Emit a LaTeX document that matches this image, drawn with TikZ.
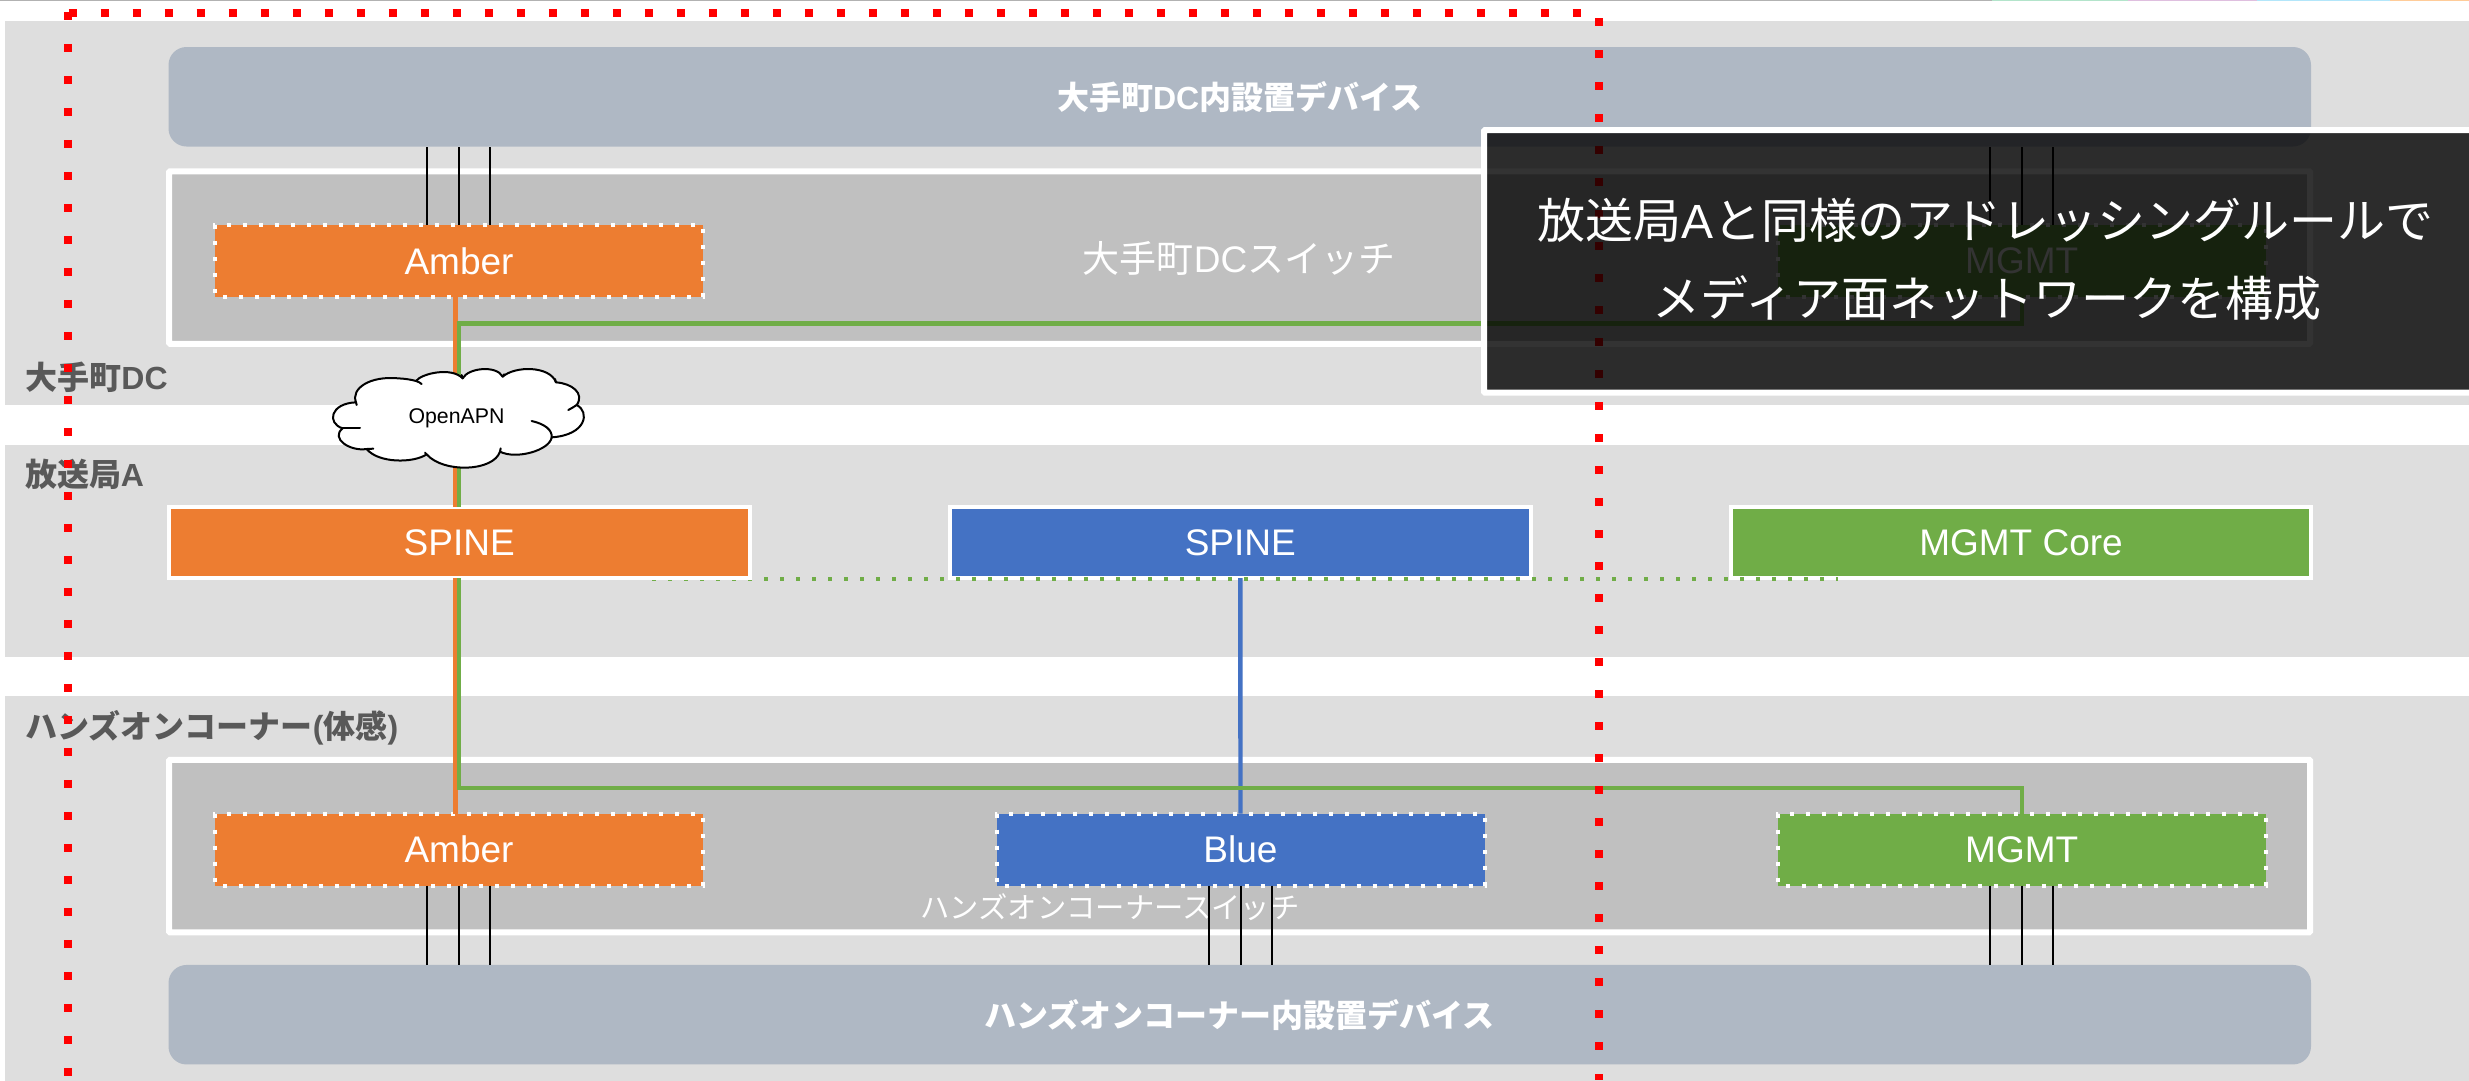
\documentclass[tikz,border=0pt]{standalone}
\usepackage{fontspec}
\setmainfont{Liberation Sans}
\newfontfamily\cjk{Noto Sans CJK JP}
\definecolor{bandgray}{HTML}{DEDEDE}
\definecolor{devgray}{HTML}{AFB8C4}
\definecolor{swgray}{HTML}{C0C0C0}
\definecolor{oorange}{HTML}{ED7D31}
\definecolor{oblue}{HTML}{4472C4}
\definecolor{ogreen}{HTML}{70AD47}
\definecolor{labgray}{HTML}{595959}
\tikzset{
  box/.style={inner sep=0pt,outer sep=0pt,anchor=center},
  band/.style={box,fill=bandgray,minimum width=2464pt},
  device/.style={box,fill=devgray,rounded corners=18pt,minimum width=2142.5pt,minimum height=99.5pt,text=white,font=\fontsize{32pt}{38pt}\selectfont\bfseries},
  switchbox/.style={box,fill=swgray,draw=white,line width=6pt,rounded corners=1pt,minimum width=2141pt,minimum height=172.5pt},
  vlan/.style={box,draw=white,line width=4pt,dash pattern=on 4pt off 12pt,dash phase=8pt,minimum width=488pt,minimum height=72pt,text=white,font=\fontsize{37pt}{44pt}\selectfont},
  spine/.style={box,draw=white,line width=4pt,minimum width=580.5pt,minimum height=71pt,text=white,font=\fontsize{37pt}{44pt}\selectfont},
  sectionlabel/.style={inner sep=0pt,outer sep=0pt,anchor=west,text=labgray,font=\fontsize{32pt}{38pt}\selectfont\bfseries},
  swlabel/.style={inner sep=0pt,outer sep=0pt,text=white},
  wire/.style={black,line width=2pt},
  olink/.style={oorange,line width=4.4pt},
  glink/.style={ogreen,line width=4.4pt},
  blink/.style={oblue,line width=4.4pt},
  reddots/.style={red,line width=8pt,dash pattern=on 8pt off 24pt},
  greendots/.style={ogreen,line width=4pt,dash pattern=on 4pt off 12pt},
  calltext/.style={inner sep=0pt,outer sep=0pt,text=white,font=\fontsize{48pt}{56pt}\selectfont},
}
\begin{document}
\begin{tikzpicture}[x=1pt,y=-1pt]
\useasboundingbox (0,0) rectangle (2469,1080);
\fill[white] (0,0) rectangle (2469,1080);
% top screen edge
\fill[black!30] (0,0) rectangle (1992,1.3);
\fill[cyan!30!green!30] (1992,0) rectangle (2128,1.3);
\fill[violet!25] (2128,0) rectangle (2257,1.3);
\fill[cyan!30] (2257,0) rectangle (2390,1.3);
\fill[orange!40] (2390,0) rectangle (2469,1.3);
% bands
\node[band,minimum height=384pt] (bandDC) at (1237,213) {};
\node[band,minimum height=212pt] (bandA) at (1237,551) {};
\node[band,minimum height=385pt] (bandH) at (1237,888) {};
% switches
\node[switchbox] (swD) at (1239.5,257.5) {};
\node[switchbox] (swH) at (1239.5,846) {};
\node[swlabel,font=\fontsize{37pt}{44pt}\selectfont] (swDlab) at (1239,258) {{\cjk 大手町}DC{\cjk スイッチ}};
\node[swlabel,font=\fontsize{29.3pt}{34pt}\selectfont\cjk] (swHlab) at (1110,907) {ハンズオンコーナースイッチ};
% devices
\node[device] (devT) at (1239.75,96.75) {{\cjk 大手町}DC{\cjk 内設置デバイス}};
\node[device] (devB) at (1239.75,1014.7) {\cjk ハンズオンコーナー内設置デバイス};
% VLAN boxes
\node[vlan,fill=oorange] (amberD) at (459,261) {Amber};
\node[vlan,fill=ogreen] (mgmtD) at (2021.7,261) {MGMT};
\node[vlan,fill=oorange] (amberH) at (459,849.7) {Amber};
\node[vlan,fill=oblue] (blueH) at (1240.5,849.7) {Blue};
\node[vlan,fill=ogreen] (mgmtH) at (2021.7,849.7) {MGMT};
% spines
\node[spine,fill=oblue] (spineB) at (1240.3,542.5) {SPINE};
\node[spine,fill=ogreen] (spineG) at (2021,542.5) {MGMT Core};
\coordinate (dotL) at (652,579);
\coordinate (dotR) at (1837.5,579);
\draw[greendots] (dotL) -- (dotR);
\node[spine,fill=oorange] (spineO) at (459.25,542.5) {SPINE};
% black wires
\foreach \dx in {-32,0,31}{
  \draw[wire] ([xshift=\dx pt]amberD.north) -- ([xshift=\dx pt]amberD.north |- devT.south);
  \draw[wire] ([xshift=\dx pt]mgmtD.north) -- ([xshift=\dx pt]mgmtD.north |- devT.south);
  \draw[wire] ([xshift=\dx pt]amberH.south) -- ([xshift=\dx pt]amberH.south |- devB.north);
  \draw[wire] ([xshift=\dx pt]blueH.south) -- ([xshift=\dx pt]blueH.south |- devB.north);
  \draw[wire] ([xshift=\dx pt]mgmtH.south) -- ([xshift=\dx pt]mgmtH.south |- devB.north);
}
% links
\draw[olink] ([xshift=-3.6pt]amberD.south) -- ([xshift=-3.6pt]amberD.south |- spineO.north);
\draw[olink] ([xshift=-3.6pt]spineO.south) -- ([xshift=-3.6pt]spineO.south |- amberH.north);
\draw[blink] (spineB.south) -- (blueH.north);
\coordinate (gDtop) at (spineO.north |- 0,323.4);
\coordinate (gHbot) at (spineO.south |- 0,788);
\draw[glink] (mgmtD.south) |- (gDtop) -- (spineO.north);
\draw[glink] (mgmtH.north) |- (gHbot) -- (spineO.south);
% cloud
\begin{scope}[shift={(320,355)},x=.33333pt,y=-.33333pt,line width=2pt,line cap=round,line join=round]
\filldraw[fill=white,draw=black]
  (108,142) .. controls (92,100) and (150,62) .. (235,70)
  .. controls (255,71) and (275,74) .. (288,78)
  .. controls (305,55) and (395,35) .. (428,70)
  .. controls (445,38) and (530,30) .. (548,65)
  .. controls (585,32) and (690,32) .. (708,82)
  .. controls (755,85) and (795,115) .. (770,150)
  .. controls (810,170) and (800,240) .. (695,247)
  .. controls (690,285) and (590,315) .. (540,290)
  .. controls (520,350) and (370,355) .. (320,298)
  .. controls (280,325) and (175,325) .. (140,282)
  .. controls (90,290) and (30,250) .. (68,220)
  .. controls (20,205) and (30,145) .. (108,142) -- cycle;
\draw (288,78) .. controls (295,80) and (300,83) .. (305,87);
\draw (428,70) -- (425,60);
\draw (548,65) -- (552,58);
\draw (708,82) -- (705,72);
\draw (770,150) .. controls (762,155) and (755,160) .. (745,165);
\draw (695,247) .. controls (697,225) and (675,207) .. (635,198);
\draw (540,290) -- (542,280);
\draw (320,298) -- (315,293);
\draw (140,282) -- (160,281);
\draw (68,220) .. controls (85,220) and (100,220) .. (120,220);
\draw (108,142) -- (110,150);
\end{scope}
\node[inner sep=0pt,outer sep=0pt,font=\fontsize{21.3pt}{25pt}\selectfont] (cloudlab) at (456.5,418) {OpenAPN};
% section labels
\node[sectionlabel] (labDC) at (25.5,377) {{\cjk 大手町}DC};
\node[sectionlabel] (labA) at (25,474.5) {{\cjk 放送局}A};
\node[sectionlabel] (labH) at (25.5,728) {{\cjk ハンズオンコーナー}({\cjk 体感})};
% red dotted frame
\coordinate (rA) at (68.4,11.8);
\coordinate (rB) at (68.4,1080);
\coordinate (rC) at (68.5,12.6);
\coordinate (rD) at (1582,12.6);
\coordinate (rE) at (1599,18);
\coordinate (rF) at (1599,1080);
\draw[reddots] (rA) -- (rB);
\draw[reddots] (rC) -- (rD);
\draw[reddots] (rE) -- (rF);
% callout
\node[box,fill=black,fill opacity=.8,draw=white,draw opacity=1,line width=6pt,rounded corners=1pt,minimum width=1000pt,minimum height=262.7pt] (call) at (1984,261.35) {};
\node[calltext] (call1) at (1985.5,220) {{\cjk 放送局}A{\cjk と同様のアドレッシングルールで}};
\node[calltext] (call2) at (1987,298) {\cjk メディア面ネットワークを構成};
\end{tikzpicture}
\end{document}
